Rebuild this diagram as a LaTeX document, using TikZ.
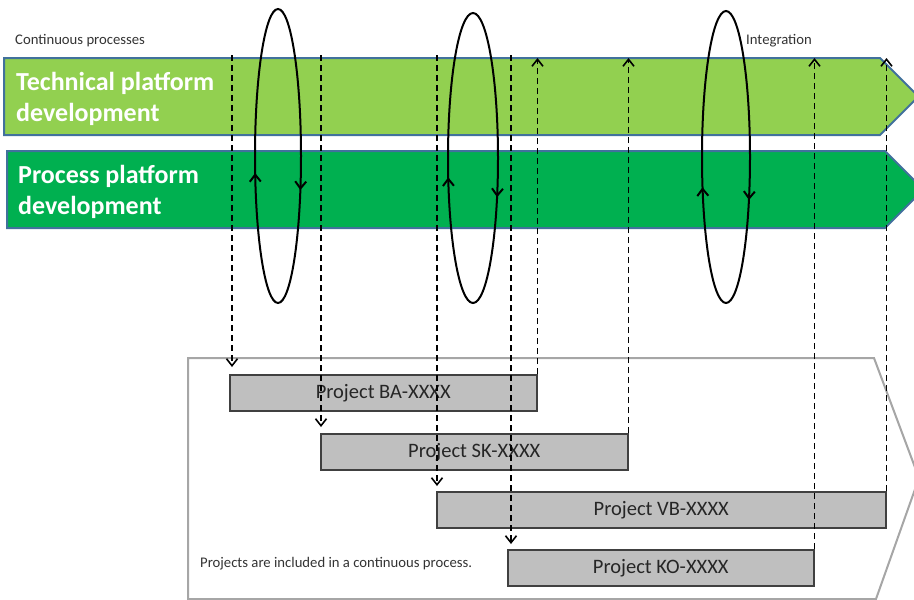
\documentclass[tikz,border=0pt]{standalone}
\usepackage{fontspec}
\setmainfont{Carlito}
\usepackage{tikz}
\usepackage{tkz-euclide}
\usetikzlibrary{positioning}
\usetikzlibrary{arrows.meta}
\usetikzlibrary{decorations.markings}
\definecolor{lightband}{HTML}{92D050}
\definecolor{darkband}{HTML}{00B050}
\definecolor{bandline}{HTML}{41719C}
\definecolor{boxfill}{HTML}{BFBFBF}
\definecolor{boxline}{HTML}{404040}
\definecolor{frameline}{HTML}{A6A6A6}

\begin{document}
\begin{tikzpicture}[
  x=1pt, y=-1pt,
  band/.style = {draw=bandline, line width=2pt},
  bandtext/.style = {text=white, font=\bfseries\fontsize{26}{31}\selectfont,
    align=left, inner sep=0pt, anchor=base west},
  note/.style = {text=black!80, inner sep=0pt, anchor=base west,
    font=\fontsize{14.7}{17}\selectfont},
  project/.style = {draw=boxline, fill=boxfill, line width=1.5pt,
    anchor=north west, minimum height=36pt, inner sep=0pt,
    font=\fontsize{20.5}{24}\selectfont, text=black!85},
  stageframe/.style = {draw=frameline, line width=2pt},
  flow/.style = {line width=1.6pt, dash pattern=on 6pt off 4pt},
  cycleloop/.style = {line width=2pt},
  turn/.style 2 args = {postaction={decorate}, decoration={markings,
    mark=at position #1 with {\arrow{>}},
    mark=at position #2 with {\arrow{>}}}},
  >={Straight Barb[length=7pt, width=11pt]},
]

  \useasboundingbox (0,0) rectangle (914,600);
  \clip (0,0) rectangle (914,600);

  % platform bands
  \tkzDefPoint(4,58){ta}
  \tkzDefPoint(880,58){tb}
  \tkzDefPoint(918.5,96.5){tc}
  \tkzDefPoint(880,135){td}
  \tkzDefPoint(4,135){te}

  \tkzDefPoint(7,151){pa}
  \tkzDefPoint(885,151){pb}
  \tkzDefPoint(923.5,189.5){pc}
  \tkzDefPoint(885,228){pd}
  \tkzDefPoint(7,228){pe}

  \filldraw[band, fill=lightband] (ta) -- (tb) -- (tc) -- (td) -- (te) -- cycle;
  \filldraw[band, fill=darkband] (pa) -- (pb) -- (pc) -- (pd) -- (pe) -- cycle;

  \node[bandtext] (techtxt) at (16,121) {Technical platform\\development};
  \node[bandtext] (proctxt) at (18,214) {Process platform\\development};

  \node[note] (conttxt) at (15,44) {Continuous processes};
  \node[note] (integtxt) at (746,44) {Integration};

  % project frame
  \tkzDefPoint(188,358){fa}
  \tkzDefPoint(874,358){fb}
  \tkzDefPoint(919,478){fc}
  \tkzDefPoint(876,599){fd}
  \tkzDefPoint(188,599){fe}
  \draw[stageframe] (fa) -- (fb) -- (fc) -- (fd) -- (fe) -- cycle;

  \node[project, minimum width=307pt] (ba) at (229,374) {Project BA-XXXX};
  \node[project, minimum width=307pt] (sk) at (320,433) {Project SK-XXXX};
  \node[project, minimum width=449pt] (vb) at (436,491) {Project VB-XXXX};
  \node[project, minimum width=306pt] (ko) at (507,549) {Project KO-XXXX};

  \node[note] (inctxt) at (200,567) {Projects are included in a continuous process.};

  % hand-over into projects
  \tkzDefPoint(232,55){s1}
  \tkzDefPoint(321,55){s2}
  \tkzDefPoint(437,55){s3}
  \tkzDefPoint(511,55){s4}

  \draw[flow, ->, shorten >=7pt] (s1) -- (s1 |- ba.north);
  \draw[flow, ->, shorten >=6pt] (s2) -- (s2 |- sk.north);
  \draw[flow, ->, shorten >=5pt] (s3) -- (s3 |- vb.north);
  \draw[flow, ->, shorten >=5pt] (s4) -- (s4 |- ko.north);

  % integration back into platforms
  \draw[flow, ->] (ba.north east) -- (ba.north east |- tb);
  \draw[flow, ->] (sk.north east) -- (sk.north east |- tb);
  \draw[flow, ->] (vb.north east) -- (vb.north east |- tb);
  \draw[flow, ->] (ko.north east) -- (ko.north east |- tb);

  % cycles
  \draw[cycleloop, turn={0.056}{0.472}] (278,156) ellipse [x radius=23, y radius=147];
  \draw[cycleloop, turn={0.065}{0.468}] (473,158) ellipse [x radius=25, y radius=145];
  \draw[cycleloop, turn={0.071}{0.450}] (726,157) ellipse [x radius=24, y radius=146];

\end{tikzpicture}
\end{document}
